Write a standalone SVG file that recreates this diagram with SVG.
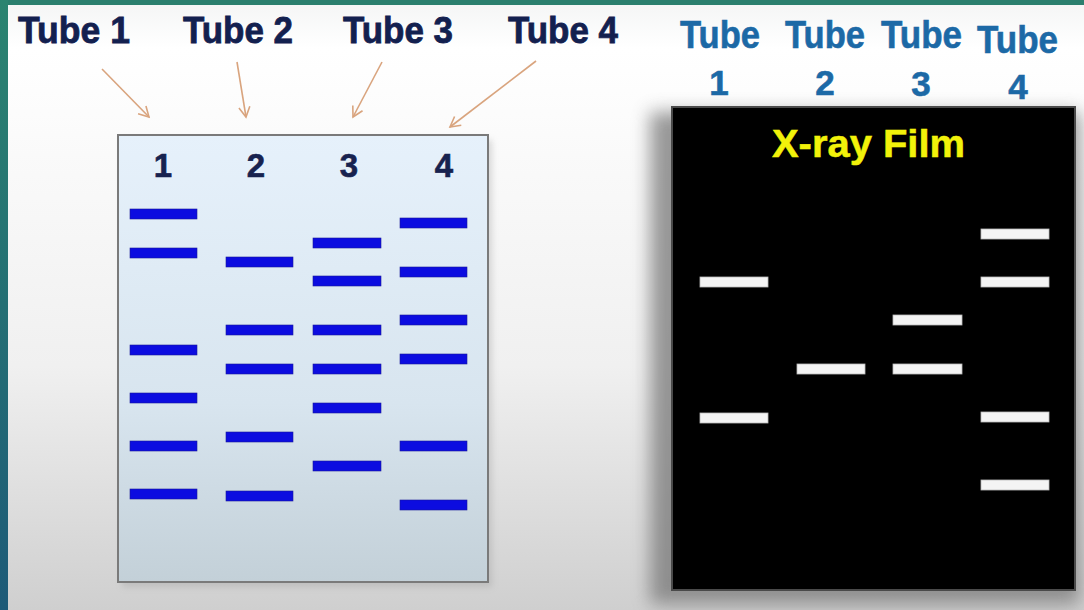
<svg xmlns="http://www.w3.org/2000/svg" width="1084" height="610" viewBox="0 0 1084 610">
<defs>
<linearGradient id="bg" x1="0" y1="0" x2="0" y2="1">
<stop offset="0" stop-color="#f4f5f5"/>
<stop offset="0.08" stop-color="#ffffff"/>
<stop offset="0.6" stop-color="#f0f0f0"/>
<stop offset="1" stop-color="#cfcfcf"/>
</linearGradient>
<linearGradient id="side" x1="0" y1="0" x2="0" y2="1">
<stop offset="0" stop-color="#2b8470"/>
<stop offset="1" stop-color="#1d5a78"/>
</linearGradient>
<linearGradient id="gelfill" x1="0" y1="0" x2="0" y2="1">
<stop offset="0" stop-color="#e6f1fb"/>
<stop offset="0.6" stop-color="#d8e5ef"/>
<stop offset="1" stop-color="#c3d0d8"/>
</linearGradient>
<filter id="blur" x="-20%" y="-20%" width="140%" height="140%">
<feGaussianBlur stdDeviation="9"/>
</filter>
<filter id="blur2" x="-20%" y="-20%" width="140%" height="140%">
<feGaussianBlur stdDeviation="3"/>
</filter>
<marker id="vhead" markerWidth="14" markerHeight="14" refX="12" refY="7" orient="auto" markerUnits="userSpaceOnUse">
<path d="M2,1.5 L12,7 L2,12.5" fill="none" stroke="#d9a47e" stroke-width="1.6"/>
</marker>
<style>
.tl{font-family:"Liberation Sans",Arial,sans-serif;font-weight:bold;font-size:37px;fill:#13204f;stroke:#13204f;stroke-width:0.8}
.tr{font-family:"Liberation Sans",Arial,sans-serif;font-weight:bold;font-size:38px;fill:#1c69a6;stroke:#1c69a6;stroke-width:0.6}
.num{font-family:"Liberation Sans",Arial,sans-serif;font-weight:bold;font-size:33px;fill:#17224f;stroke:#17224f;stroke-width:0.6;text-anchor:middle}
.rnum{font-family:"Liberation Sans",Arial,sans-serif;font-weight:bold;font-size:35px;fill:#1c69a6;stroke:#1c69a6;stroke-width:0.6;text-anchor:middle}
.band{fill:#0c0ce0;stroke:#1a1a9a;stroke-width:0.6}
.wband{fill:#f4f4f4;stroke:#bbbbbb;stroke-width:0.8}
.arr{stroke:#d9a47e;stroke-width:1.6;fill:none}
</style>
</defs>
<rect x="0" y="0" width="1084" height="610" fill="url(#bg)"/>
<rect x="0" y="0" width="1084" height="5" fill="#2b7f6e"/>
<rect x="0" y="0" width="8" height="610" fill="url(#side)"/>

<g id="label-tube1"><text class="tl" x="18" y="43" textLength="112" lengthAdjust="spacingAndGlyphs">Tube 1</text></g>
<g id="label-tube2"><text class="tl" x="183" y="43" textLength="110" lengthAdjust="spacingAndGlyphs">Tube 2</text></g>
<g id="label-tube3"><text class="tl" x="343" y="43" textLength="110" lengthAdjust="spacingAndGlyphs">Tube 3</text></g>
<g id="label-tube4"><text class="tl" x="508" y="43" textLength="110" lengthAdjust="spacingAndGlyphs">Tube 4</text></g>

<g id="connectors">
<line class="arr" x1="102" y1="69" x2="149" y2="117" marker-end="url(#vhead)"/>
<line class="arr" x1="237" y1="62" x2="246" y2="117" marker-end="url(#vhead)"/>
<line class="arr" x1="382" y1="62" x2="353" y2="117" marker-end="url(#vhead)"/>
<line class="arr" x1="536" y1="61" x2="450" y2="127" marker-end="url(#vhead)"/>
</g>

<g id="gel">
<rect x="122" y="140" width="370" height="447" fill="#999" opacity="0.35" filter="url(#blur2)"/>
<rect x="118" y="135" width="370" height="447" fill="url(#gelfill)" stroke="#7a7a7a" stroke-width="2"/>
<text class="num" x="163" y="177">1</text>
<text class="num" x="256" y="177">2</text>
<text class="num" x="349" y="177">3</text>
<text class="num" x="444" y="177">4</text>
<g id="gel-lane1">
<rect class="band" x="130" y="209" width="67" height="10"/>
<rect class="band" x="130" y="248" width="67" height="10"/>
<rect class="band" x="130" y="345" width="67" height="10"/>
<rect class="band" x="130" y="393" width="67" height="10"/>
<rect class="band" x="130" y="441" width="67" height="10"/>
<rect class="band" x="130" y="489" width="67" height="10"/>
</g>
<g id="gel-lane2">
<rect class="band" x="226" y="257" width="67" height="10"/>
<rect class="band" x="226" y="325" width="67" height="10"/>
<rect class="band" x="226" y="364" width="67" height="10"/>
<rect class="band" x="226" y="432" width="67" height="10"/>
<rect class="band" x="226" y="491" width="67" height="10"/>
</g>
<g id="gel-lane3">
<rect class="band" x="313" y="238" width="68" height="10"/>
<rect class="band" x="313" y="276" width="68" height="10"/>
<rect class="band" x="313" y="325" width="68" height="10"/>
<rect class="band" x="313" y="364" width="68" height="10"/>
<rect class="band" x="313" y="403" width="68" height="10"/>
<rect class="band" x="313" y="461" width="68" height="10"/>
</g>
<g id="gel-lane4">
<rect class="band" x="400" y="218" width="67" height="10"/>
<rect class="band" x="400" y="267" width="67" height="10"/>
<rect class="band" x="400" y="315" width="67" height="10"/>
<rect class="band" x="400" y="354" width="67" height="10"/>
<rect class="band" x="400" y="441" width="67" height="10"/>
<rect class="band" x="400" y="500" width="67" height="10"/>
</g>
</g>

<g id="film-labels">
<text class="tr" x="680" y="48" textLength="80" lengthAdjust="spacingAndGlyphs">Tube</text>
<text class="tr" x="785" y="48" textLength="80" lengthAdjust="spacingAndGlyphs">Tube</text>
<text class="tr" x="881" y="48" textLength="81" lengthAdjust="spacingAndGlyphs">Tube</text>
<text class="tr" x="977" y="53" textLength="81" lengthAdjust="spacingAndGlyphs">Tube</text>
<text class="rnum" x="719" y="95">1</text>
<text class="rnum" x="825" y="95">2</text>
<text class="rnum" x="921" y="96">3</text>
<text class="rnum" x="1018" y="99">4</text>
</g>

<g id="xray-film">
<rect x="650" y="112" width="430" height="492" fill="#777" opacity="0.75" filter="url(#blur)"/>
<rect x="672" y="107" width="403" height="483" fill="#000" stroke="#4a4a4a" stroke-width="2"/>
<text x="772" y="157" textLength="193" lengthAdjust="spacingAndGlyphs" font-family="Liberation Sans, Arial, sans-serif" font-weight="bold" font-size="38" fill="#f2f20a" stroke="#f2f20a" stroke-width="0.5">X-ray Film</text>
<rect class="wband" x="700" y="277" width="68" height="10"/>
<rect class="wband" x="700" y="413" width="68" height="10"/>
<rect class="wband" x="797" y="364" width="68" height="10"/>
<rect class="wband" x="893" y="315" width="69" height="10"/>
<rect class="wband" x="893" y="364" width="69" height="10"/>
<rect class="wband" x="981" y="229" width="68" height="10"/>
<rect class="wband" x="981" y="277" width="68" height="10"/>
<rect class="wband" x="981" y="412" width="68" height="10"/>
<rect class="wband" x="981" y="480" width="68" height="10"/>
</g>
</svg>
